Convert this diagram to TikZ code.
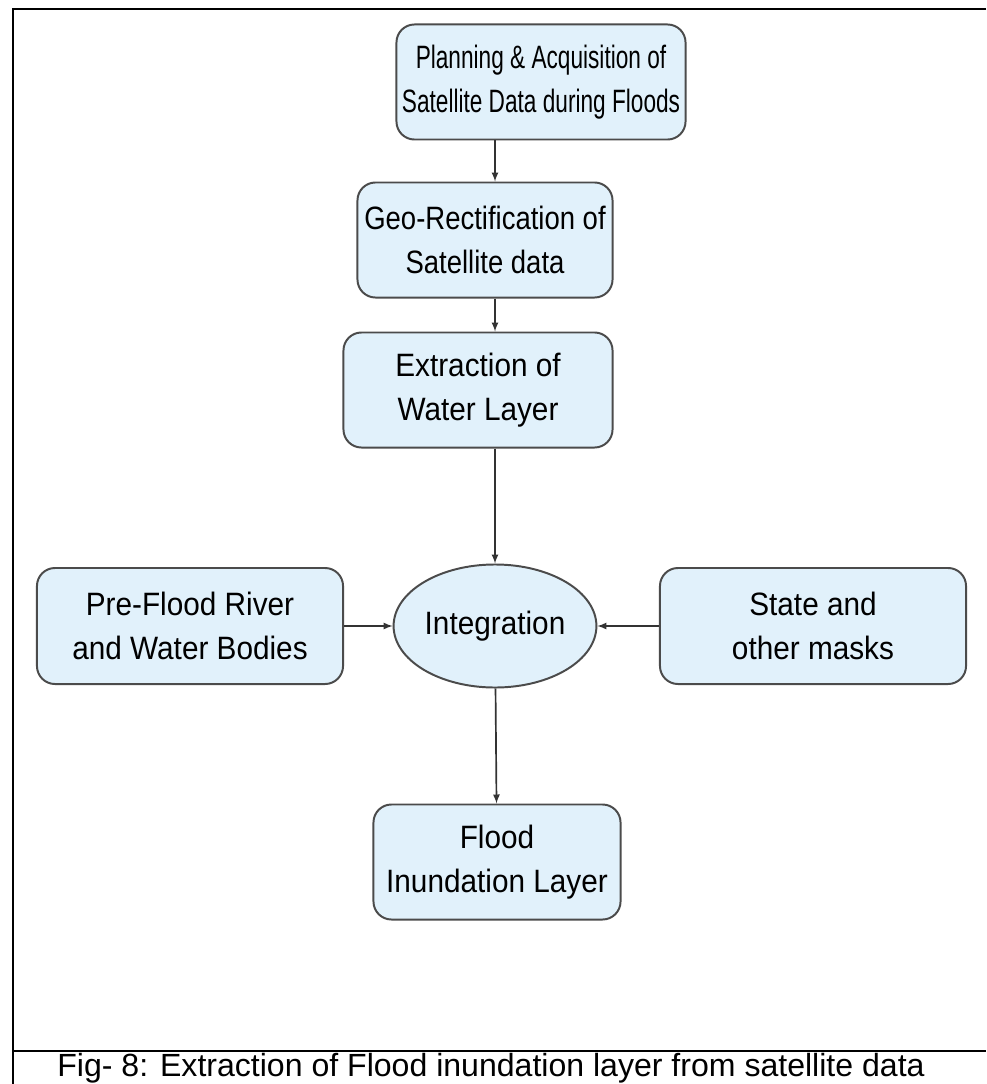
\documentclass[tikz,border=0pt]{standalone}
\usepackage{fontspec}
\setmainfont{Liberation Sans}
\newfontfamily\boxfont[FakeStretch=0.92]{Liberation Sans}
\newfontfamily\midfont[FakeStretch=0.85]{Liberation Sans}
\newfontfamily\narrowfont[FakeStretch=0.70]{Liberation Sans}
\usepackage{tikz}
\usetikzlibrary{calc, shapes, arrows}
\definecolor{boxblue}{RGB}{225,241,251}
\definecolor{edgegray}{RGB}{75,75,75}

\begin{document}
\begin{tikzpicture}[x=0.025cm,y=-0.025cm]
\tikzstyle{box}=[rectangle,rounded corners=0.45cm,draw=edgegray,line width=1.4pt,fill=boxblue,minimum height=2.875cm,inner sep=2pt,align=center,font=\boxfont\fontsize{23}{31}\selectfont]
\tikzstyle{merge}=[ellipse,draw=edgegray,line width=1.4pt,fill=boxblue,minimum width=5.025cm,minimum height=3.075cm,inner sep=1pt,font=\boxfont\fontsize{23}{31}\selectfont]
\tikzstyle{link}=[->,>=latex,draw=black!80,line width=1.2pt]
\useasboundingbox (0,0) rectangle (986,1084);
% frame
\draw[line width=2.1pt] (986,9) -- (13,9) -- (13,1084);
\draw[line width=2.1pt] (13,1051) -- (986,1051);
\node[box,minimum width=7.225cm,font=\narrowfont\fontsize{23}{31}\selectfont] (F_1) at (541,82) {Planning \& Acquisition of\\Satellite Data during Floods};
\node[box,minimum width=6.375cm,font=\midfont\fontsize{23}{31}\selectfont] (F_2) at (485,240) {Geo-Rectification of\\Satellite data};
\node[box,minimum width=6.725cm] (F_3) at (478,390) {Extraction of\\Water Layer};
\node[merge] (F_I) at (495,626) {Integration};
\node[box,minimum width=7.65cm,minimum height=2.9cm] (F_4) at (190,626) {Pre-Flood River\\and Water Bodies};
\node[box,minimum width=7.65cm,minimum height=2.9cm] (F_5) at (813,626) {State and\\other masks};
\node[box,minimum width=6.175cm] (F_6) at (497,862) {Flood\\Inundation Layer};
\node[anchor=base,font=\fontsize{22.8}{27}\selectfont] (cap) at (491,1076) {Fig- 8: Extraction of Flood inundation layer from satellite data};
\draw[link] (F_1.south -| F_I) -- (F_2.north -| F_I);
\draw[link] (F_2.south -| F_I) -- (F_3.north -| F_I);
\draw[link] (F_3.south -| F_I) -- (F_I);
\draw[link] (F_4) -- (F_I);
\draw[link] (F_5) -- (F_I);
\draw[link] (F_I) -- (F_6);
\end{tikzpicture}
\end{document}
